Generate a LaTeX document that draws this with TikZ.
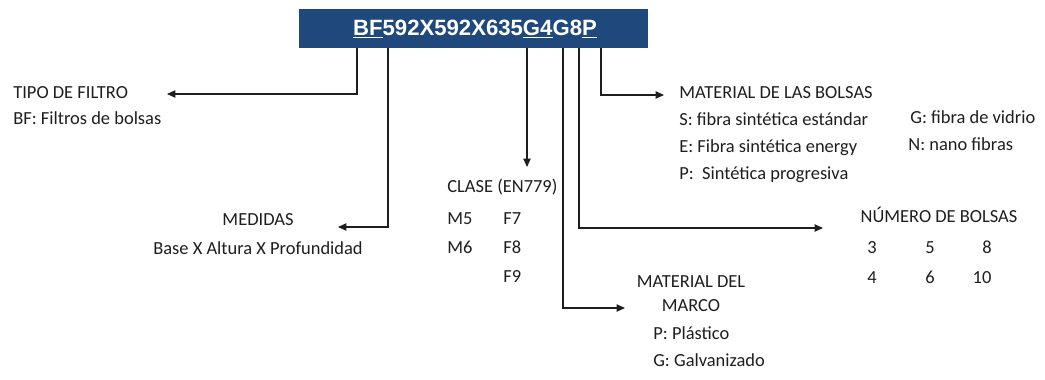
\documentclass[tikz,border=0pt]{standalone}
\usepackage{fontspec}
\setmainfont{Carlito}
\newfontfamily\codefont{Liberation Sans}
\usepackage{xcolor}
\usepackage{tikz}
\usetikzlibrary{arrows.meta, positioning}
\definecolor{navy}{RGB}{31, 73, 125}
\definecolor{ink}{RGB}{30, 30, 30}

\begin{document}
\begin{tikzpicture}[x=0.02cm, y=-0.02cm,
  codebox/.style={rectangle, fill=navy, text=white,
    minimum width=6.98cm, minimum height=0.78cm, inner sep=0pt,
    font=\codefont\fontsize{12.6pt}{14pt}\selectfont\bfseries},
  lbl/.style={anchor=base west, inner sep=0pt, text=ink,
    font=\fontsize{10.5pt}{12pt}\selectfont},
  clbl/.style={lbl, anchor=base},
  arr/.style={-{Triangle[length=4.8pt, width=4.2pt]}, line width=0.6pt, color=ink}
]
\useasboundingbox (0,0) rectangle (1045,379);
\node[codebox] at (473.5, 28.5) (code) {};
\node[font=\codefont\fontsize{12.6pt}{14pt}\selectfont\bfseries, text=white,
      anchor=base, inner sep=0pt] at (475, 35) (codetxt)
      {\underline{BF}592X592X635\underline{G4}G8\underline{P}};
% letras del codigo
\coordinate (dB)  at (357, 48);
\coordinate (dF)  at (388, 48);
\coordinate (dG)  at (527, 48);
\coordinate (dG2) at (563, 48);
\coordinate (d8)  at (579, 48);
\coordinate (dP)  at (601, 48);
% puntas de flecha
\coordinate (tTipo)   at (167, 94);
\coordinate (tMed)    at (338, 227);
\coordinate (tClase)  at (527, 167);
\coordinate (tMarco)  at (625, 308);
\coordinate (tNum)    at (823, 228);
\coordinate (tBolsa)  at (664, 95);
% textos
\node[lbl] at (13, 98)  (tipo) {TIPO DE FILTRO};
\node[lbl] at (13, 124) (bf)   {BF: Filtros de bolsas};
\node[clbl] at (258, 225) (med)  {MEDIDAS};
\node[clbl] at (258, 254) (base) {Base X Altura X Profundidad};
\node[lbl] at (447, 192) (clase) {CLASE (EN779)};
\node[lbl] at (447, 224) (m5) {M5};
\node[lbl] at (503, 224) (f7) {F7};
\node[lbl] at (447, 253) (m6) {M6};
\node[lbl] at (503, 253) (f8) {F8};
\node[lbl] at (503, 282) (f9) {F9};
\node[clbl] at (691, 287) (marco1) {MATERIAL DEL};
\node[clbl] at (691, 311) (marco2) {MARCO};
\node[lbl] at (653, 339) (plas) {P: Plástico};
\node[lbl] at (653, 366) (galv) {G: Galvanizado};
\node[lbl] at (679, 98)  (bolsa) {MATERIAL DE LAS BOLSAS};
\node[lbl] at (679, 125) (sfib) {S: fibra sintética estándar};
\node[lbl] at (679, 152) (efib) {E: Fibra sintética energy};
\node[lbl] at (679, 179) (pfib) {P:\ \ Sintética progresiva};
\node[lbl] at (910, 123) (gfib) {G: fibra de vidrio};
\node[lbl] at (908, 150) (nfib) {N: nano fibras};
\node[clbl] at (939, 222) (num) {NÚMERO DE BOLSAS};
\node[clbl] at (872, 253) (n3) {3};
\node[clbl] at (930, 253) (n5) {5};
\node[clbl] at (987, 253) (n8) {8};
\node[clbl] at (872, 283) (n4) {4};
\node[clbl] at (930, 283) (n6) {6};
\node[clbl] at (982, 283) (n10) {10};
% conectores
\draw[arr] (dB)  |- (tTipo);
\draw[arr] (dF)  |- (tMed);
\draw[arr] (dG)  -- (tClase);
\draw[arr] (dG2) |- (tMarco);
\draw[arr] (d8)  |- (tNum);
\draw[arr] (dP)  |- (tBolsa);
\end{tikzpicture}
\end{document}
